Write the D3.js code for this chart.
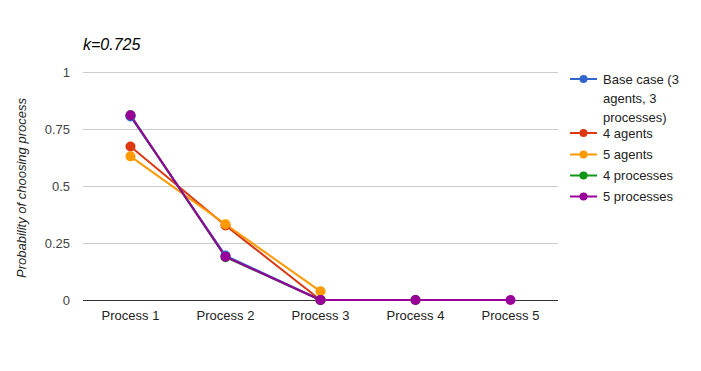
<!DOCTYPE html>
<html><head><meta charset="utf-8">
<script src="https://cdn.jsdelivr.net/npm/d3@7"></script>
<style>body{margin:0;background:#fff;} svg{display:block;font-family:Arial,"Liberation Sans",sans-serif;}</style>
</head><body>
<svg id="chart" width="701" height="371"></svg>
<script>
const categories = ["Process 1","Process 2","Process 3","Process 4","Process 5"];
const seriesNames = ["Base case (3 agents, 3 processes)","4 agents","5 agents","4 processes","5 processes"];
const baseCase = [0.805, 0.195, 0];
const fourAgents = [0.673, 0.327, 0];
const fiveAgents = [0.630, 0.332, 0.038];
const fourProcesses = [0.81, 0.188, 0, 0];
const fiveProcesses = [0.81, 0.19, 0, 0, 0];
const yTicks = [0, 0.25, 0.5, 0.75, 1];
const yTickLabels = ["0","0.25","0.5","0.75","1"];
const colors = ["#3366cc","#dc3912","#ff9900","#109618","#990099"];
const legendLines = [["Base case (3","agents, 3","processes)"],["4 agents"],["5 agents"],["4 processes"],["5 processes"]];

(function(){
const series = [baseCase, fourAgents, fiveAgents, fourProcesses, fiveProcesses];
const svg = d3.select("#chart");
const pLeft = 83, pRight = 558, pTop = 72, pBottom = 300;

const x = d3.scaleBand().domain(categories).range([pLeft, pRight]);
const y = d3.scaleLinear().domain([0, 1]).range([pBottom, pTop]);

// gridlines
svg.append("g").selectAll("line").data(yTicks.filter(d => d > 0)).join("line")
  .attr("x1", pLeft).attr("x2", pRight)
  .attr("y1", d => Math.round(y(d)) + 0.5).attr("y2", d => Math.round(y(d)) + 0.5)
  .attr("stroke", "#cccccc").attr("stroke-width", 1);

// y tick labels
svg.append("g").selectAll("text").data(yTicks).join("text")
  .attr("x", 70).attr("y", d => y(d) + 4.5)
  .attr("text-anchor", "end").attr("font-size", 13).attr("fill", "#444")
  .text((d, i) => yTickLabels[i]);

// x labels
svg.append("g").selectAll("text").data(categories).join("text")
  .attr("x", d => x(d) + x.bandwidth() / 2).attr("y", 320)
  .attr("text-anchor", "middle").attr("font-size", 13).attr("fill", "#222")
  .text(d => d);

// baseline
svg.append("line").attr("x1", pLeft).attr("x2", pRight)
  .attr("y1", y(0) + 0.5).attr("y2", y(0) + 0.5)
  .attr("stroke", "#333").attr("stroke-width", 1);

// title
svg.append("text").attr("x", 83).attr("y", 50)
  .attr("font-size", 16).attr("font-style", "italic").attr("fill", "#000")
  .text("k=0.725");

// y axis title
svg.append("text").attr("transform", "translate(26,188) rotate(-90)")
  .attr("text-anchor", "middle").attr("font-size", 13).attr("font-style", "italic").attr("fill", "#222")
  .text("Probability of choosing process");

const cx = (i) => x(categories[i]) + x.bandwidth() / 2;
const line = d3.line().x((d, i) => cx(i)).y(d => y(d));

// lines
svg.append("g").selectAll("path").data(series).join("path")
  .attr("d", d => line(d)).attr("fill", "none")
  .attr("stroke", (d, i) => colors[i]).attr("stroke-width", 2)
  .attr("stroke-linejoin", "round");

// points
series.forEach((s, si) => {
  svg.append("g").selectAll("circle").data(s).join("circle")
    .attr("cx", (d, i) => cx(i)).attr("cy", d => y(d))
    .attr("r", 5).attr("fill", colors[si]);
});

// legend
const legendY = [79, 133, 154.5, 175.5, 196.5];
const lg = svg.append("g");
seriesNames.forEach((name, i) => {
  const g = lg.append("g");
  g.append("line").attr("x1", 570).attr("x2", 597)
    .attr("y1", legendY[i]).attr("y2", legendY[i])
    .attr("stroke", colors[i]).attr("stroke-width", 2);
  g.append("circle").attr("cx", 583.5).attr("cy", legendY[i]).attr("r", 4).attr("fill", colors[i]);
  legendLines[i].forEach((t, j) => {
    g.append("text").attr("x", 603).attr("y", legendY[i] + 4.5 + j * 19)
      .attr("font-size", 13).attr("fill", "#222").text(t);
  });
});
})();
</script>
</body></html>
